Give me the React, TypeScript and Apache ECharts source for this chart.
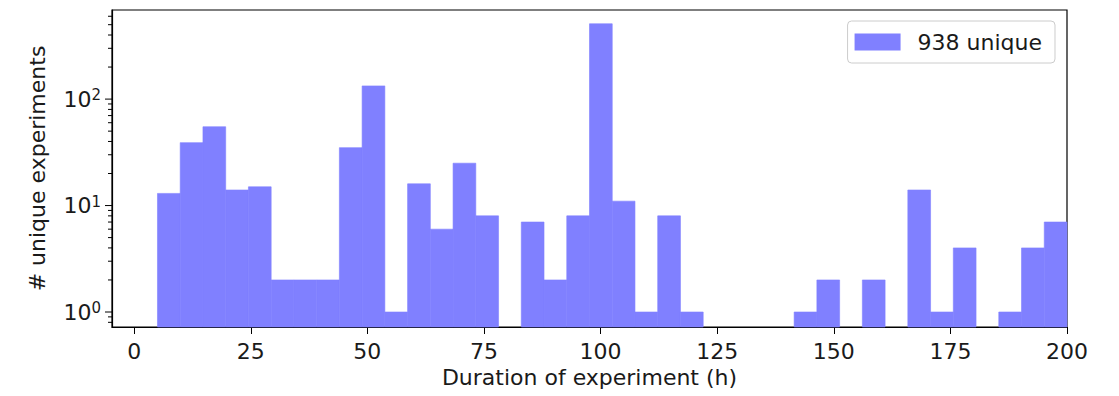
import React, { useEffect, useRef } from 'react';
import * as echarts from 'echarts';

// Histogram bins (40 equal-width bins from BIN_START to BIN_END)
const BIN_START = 5;
const BIN_END = 200;
const COUNTS = [
  13, 39, 55, 14, 15, 2, 2, 2, 35, 133,
  1, 16, 6, 25, 8, 0, 7, 2, 8, 510,
  11, 1, 8, 1, 0, 0, 0, 0, 1, 2,
  0, 2, 0, 14, 1, 4, 0, 1, 4, 7,
];
const X_TICKS = [0, 25, 50, 75, 100, 125, 150, 175, 200];
const Y_MAJOR = [1, 10, 100];
const Y_MINOR = [0.8, 0.9, 2, 3, 4, 5, 6, 7, 8, 9, 20, 30, 40, 50, 60, 70, 80, 90, 200, 300, 400, 500, 600];
const X_MIN = -4.75;
const X_MAX = 200;
const Y_MIN = 0.723;
const Y_MAX = 687;
const LEGEND_LABEL = '938 unique';
const X_NAME = 'Duration of experiment (h)';
const Y_NAME = '# unique experiments';

const FONT = '"DejaVu Sans", sans-serif';
const TEXT_COLOR = '#1a1a1a';
const BAR_COLOR = '#8080ff';

export default function App() {
  const ref = useRef<HTMLDivElement>(null);

  useEffect(() => {
    document.body.style.margin = '0';
    if (!ref.current) return;
    const chart = echarts.init(ref.current, null, { renderer: 'svg' });

    const nBins = COUNTS.length;
    const width = (BIN_END - BIN_START) / nBins;
    const histData: number[][] = [];
    COUNTS.forEach((c, i) => {
      if (c > 0) histData.push([BIN_START + i * width, BIN_START + (i + 1) * width, c]);
    });

    const option: any = {
      animation: false,
      textStyle: { fontFamily: FONT },
      grid: {
        left: 112,
        right: 52,
        top: 10,
        bottom: 69,
        show: true,
        borderColor: '#000',
        borderWidth: 1.2,
        backgroundColor: 'transparent',
      },
      legend: {
        data: [{ name: LEGEND_LABEL, icon: 'rect' }],
        right: 64,
        top: 21,
        itemWidth: 46,
        itemHeight: 17,
        padding: [10, 13, 10, 7],
        borderColor: '#cccccc',
        borderWidth: 1,
        borderRadius: 4,
        backgroundColor: 'rgba(255,255,255,0.8)',
        selectedMode: false,
        textStyle: { fontFamily: FONT, fontSize: 22, color: TEXT_COLOR, padding: [0, 0, 0, 12] },
      },
      xAxis: {
        type: 'value',
        min: X_MIN,
        max: X_MAX,
        name: X_NAME,
        nameLocation: 'middle',
        nameGap: 34,
        nameTextStyle: { fontFamily: FONT, fontSize: 22, color: TEXT_COLOR },
        splitLine: { show: false },
        axisLine: { show: true, onZero: false, lineStyle: { color: '#000', width: 1.2 } },
        axisTick: {
          show: true,
          length: 7,
          inside: false,
          customValues: X_TICKS,
          lineStyle: { color: '#000', width: 1 },
        },
        axisLabel: {
          customValues: X_TICKS,
          fontFamily: FONT,
          fontSize: 22,
          color: TEXT_COLOR,
          margin: 13,
        },
      },
      yAxis: {
        type: 'log',
        logBase: 10,
        min: Y_MIN,
        max: Y_MAX,
        name: Y_NAME,
        nameLocation: 'middle',
        nameGap: 64,
        nameTextStyle: { fontFamily: FONT, fontSize: 22, color: TEXT_COLOR },
        splitLine: { show: false },
        axisLine: { show: true, onZero: false, lineStyle: { color: '#000', width: 1.2 } },
        axisTick: { show: false },
        axisLabel: {
          showMinLabel: false,
          showMaxLabel: false,
          margin: 11,
          formatter: (value: number) => {
            const l = Math.log10(value);
            if (Math.abs(l - Math.round(l)) > 1e-6) return '';
            return `{b|10}{s|${Math.round(l)}}`;
          },
          rich: {
            b: { fontFamily: FONT, fontSize: 22, color: TEXT_COLOR },
            s: { fontFamily: FONT, fontSize: 15, color: TEXT_COLOR, verticalAlign: 'top', padding: [0, 0, 8, 0] },
          },
        },
      },
      series: [
        {
          name: LEGEND_LABEL,
          type: 'custom',
          itemStyle: { color: BAR_COLOR },
          encode: { x: [0, 1], y: 2 },
          data: histData,
          renderItem: (params: any, api: any) => {
            const x0 = api.value(0);
            const x1 = api.value(1);
            const c = api.value(2);
            const pTop = api.coord([x0, c]);
            const pBot = api.coord([x1, Y_MIN]);
            return {
              type: 'rect',
              shape: { x: pTop[0], y: pTop[1], width: pBot[0] - pTop[0], height: pBot[1] - pTop[1] },
              style: { fill: BAR_COLOR, stroke: BAR_COLOR, lineWidth: 0.6 },
            };
          },
        },
      ],
    };

    chart.setOption(option);

    // y-axis major/minor ticks (log decades), positioned through the axis scale
    const tickDefs = [
      ...Y_MAJOR.map((v) => ({ v, len: 7 })),
      ...Y_MINOR.map((v) => ({ v, len: 4 })),
    ];
    const tickGraphics = tickDefs.map(({ v, len }) => {
      const p = chart.convertToPixel({ xAxisIndex: 0, yAxisIndex: 0 }, [X_MIN, v]) as number[];
      return {
        type: 'line',
        silent: true,
        shape: { x1: p[0] - len, y1: p[1], x2: p[0], y2: p[1] },
        style: { stroke: '#000', lineWidth: 1 },
      };
    });
    chart.setOption({ graphic: tickGraphics });

    return () => chart.dispose();
  }, []);

  return <div ref={ref} style={{ width: 1119, height: 396, position: 'absolute', left: 0, top: 0 }} />;
}
